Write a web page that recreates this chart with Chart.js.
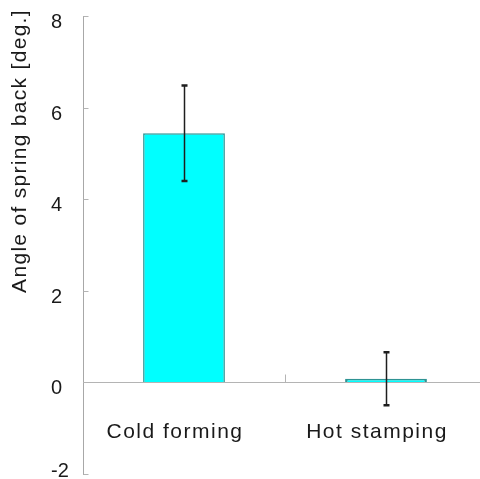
<!DOCTYPE html>
<html>
<head>
<meta charset="utf-8">
<script src="https://cdn.jsdelivr.net/npm/chart.js@4/dist/chart.umd.min.js"></script>
<style>
html,body{margin:0;padding:0;background:#fff;overflow:hidden;}
#wrap{width:480px;height:479px;position:relative;overflow:hidden;}
</style>
</head>
<body>
<div id="wrap"><canvas id="c" width="487" height="479"></canvas></div>
<script>
const categories = ["Cold forming", "Hot stamping"];
const angleValues = [5.44, 0.08];
const angleErrors = [1.04, 0.58];
const yTicks = [-2, 0, 2, 4, 6, 8];
const yTitle = "Angle of spring back [deg.]";

const FONT = "'Liberation Sans', Arial, sans-serif";

const decorPlugin = {
  id: 'decor',
  afterDatasetsDraw(chart) {
    const ctx = chart.ctx;
    const x = chart.scales.x, y = chart.scales.y;
    const ca = chart.chartArea;
    ctx.save();
    // zero line
    ctx.strokeStyle = '#b4b4b4';
    ctx.lineWidth = 1;
    const y0 = Math.round(y.getPixelForValue(0)) + 0.5;
    ctx.beginPath();
    ctx.moveTo(ca.left, y0);
    ctx.lineTo(chart.width, y0);
    ctx.stroke();
    // category divider tick
    const xd = Math.round((x.getPixelForValue(0) + x.getPixelForValue(1)) / 2) + 0.5;
    ctx.beginPath();
    ctx.moveTo(xd, y0);
    ctx.lineTo(xd, y0 - 8);
    ctx.stroke();
    // y tick marks (inside) and tick labels
    const ax = Math.round(ca.left) + 0.5;
    ctx.fillStyle = '#1a1a1a';
    ctx.font = '20px ' + FONT;
    ctx.textAlign = 'left';
    ctx.textBaseline = 'middle';
    yTicks.forEach(v => {
      const py = Math.round(y.getPixelForValue(v)) + 0.5;
      ctx.beginPath();
      ctx.moveTo(ax, py);
      ctx.lineTo(ax + 5, py);
      ctx.stroke();
      ctx.fillText(String(v), 51, Math.min(py + 6, 471));
    });
    // error bars
    ctx.strokeStyle = '#1e1e1e';
    angleValues.forEach((v, i) => {
      const px = Math.round(x.getPixelForValue(i)) + 0.5;
      const top = y.getPixelForValue(v + angleErrors[i]);
      const bot = y.getPixelForValue(v - angleErrors[i]);
      ctx.lineWidth = 1.5;
      ctx.beginPath();
      ctx.moveTo(px, top);
      ctx.lineTo(px, bot);
      ctx.stroke();
      ctx.lineWidth = 2.5;
      ctx.beginPath();
      ctx.moveTo(px - 3, top); ctx.lineTo(px + 3, top);
      ctx.moveTo(px - 3, bot); ctx.lineTo(px + 3, bot);
      ctx.stroke();
    });
    // category labels
    ctx.font = '21px ' + FONT;
    ctx.letterSpacing = '1.5px';
    ctx.textAlign = 'center';
    ctx.textBaseline = 'alphabetic';
    categories.forEach((c, i) => {
      ctx.fillText(c, x.getPixelForValue(i) - 9, 438);
    });
    // y title
    ctx.save();
    ctx.translate(26, 151);
    ctx.rotate(-Math.PI / 2);
    ctx.letterSpacing = '1.3px';
    ctx.fillText(yTitle, 0, 0);
    ctx.restore();
    ctx.restore();
  }
};

new Chart(document.getElementById('c'), {
  type: 'bar',
  data: {
    labels: categories,
    datasets: [{
      data: angleValues,
      backgroundColor: '#00FFFF',
      borderColor: '#2f9393',
      borderWidth: [1.5, 2.5],
      barPercentage: 0.405,
      categoryPercentage: 1.0
    }]
  },
  options: {
    responsive: false,
    animation: false,
    events: [],
    layout: { padding: { left: 51, top: 16, right: 0, bottom: 5 } },
    plugins: { legend: { display: false }, tooltip: { enabled: false } },
    scales: {
      x: { display: false },
      y: {
        min: -2, max: 8,
        afterFit(s) { s.width = 32; s.paddingTop = 0; s.paddingBottom = 0; },
        afterBuildTicks(s) { s.ticks = yTicks.map(v => ({ value: v })); },
        grid: { display: false, drawTicks: false },
        border: { display: true, color: '#a8a8a8', width: 1 },
        ticks: { display: false }
      }
    }
  },
  plugins: [decorPlugin]
});
</script>
</body>
</html>
